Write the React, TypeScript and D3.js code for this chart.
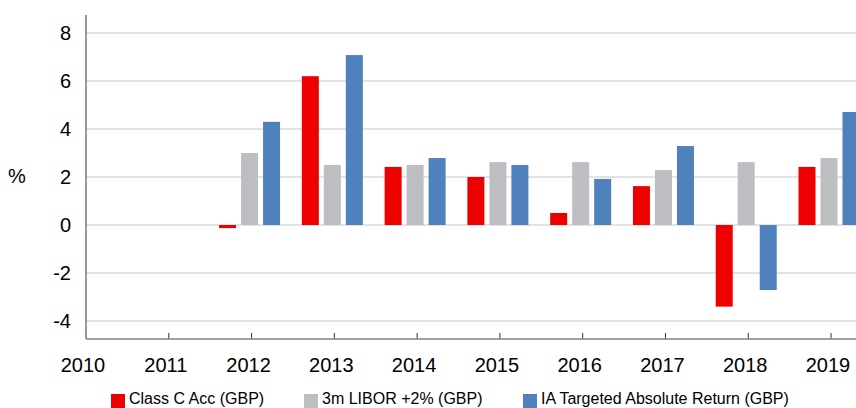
import React, { useEffect, useRef } from "react";
import * as d3 from "d3";

const years = [2012, 2013, 2014, 2015, 2016, 2017, 2018, 2019];
const classC = [-0.13, 6.2, 2.42, 2.0, 0.5, 1.62, -3.4, 2.42];
const libor = [3.0, 2.5, 2.5, 2.62, 2.62, 2.29, 2.62, 2.79];
const sector = [4.3, 7.08, 2.79, 2.5, 1.92, 3.29, -2.71, 4.71];

const seriesNames = ["Class C Acc (GBP)", "3m LIBOR +2% (GBP)", "IA Targeted Absolute Return (GBP)"];
const seriesColors = ["#ee0000", "#bdbec2", "#4f81bd"];
const yTicks = [8, 6, 4, 2, 0, -2, -4];
const xTicks = [2010, 2011, 2012, 2013, 2014, 2015, 2016, 2017, 2018, 2019];

const W = 856;
const H = 408;
const FONT = "'Liberation Sans', Arial, sans-serif";

const App: React.FC = () => {
  const ref = useRef<SVGSVGElement | null>(null);

  useEffect(() => {
    const svg = d3.select(ref.current);
    svg.selectAll("*").remove();

    const left = 86;
    const top = 15;
    const bottom = 339;

    const x = d3.scaleLinear().domain([2010, 2019]).range([left, 831]);
    const y = d3.scaleLinear().domain([-4.75, 8.75]).range([bottom, top]);
    const inner = d3.scaleBand<number>().domain([0, 1, 2]).range([-32.5, 28.5]).paddingInner(5 / 22);

    // gridlines
    svg
      .append("g")
      .selectAll("line")
      .data(yTicks)
      .enter()
      .append("line")
      .attr("x1", left)
      .attr("x2", W)
      .attr("y1", d => y(d))
      .attr("y2", d => y(d))
      .attr("stroke", "#dadada")
      .attr("stroke-width", 1.5);

    // bars
    const allSeries = [classC, libor, sector];
    allSeries.forEach((vals, si) => {
      svg
        .append("g")
        .selectAll("rect")
        .data(vals)
        .enter()
        .append("rect")
        .attr("x", (d, i) => x(years[i]) + (inner(si) as number))
        .attr("width", inner.bandwidth())
        .attr("y", d => y(Math.max(0, d)))
        .attr("height", d => Math.abs(y(d) - y(0)))
        .attr("fill", seriesColors[si]);
    });

    // y axis labels
    svg
      .append("g")
      .selectAll("text")
      .data(yTicks)
      .enter()
      .append("text")
      .attr("x", 71)
      .attr("y", d => y(d) + 7)
      .attr("text-anchor", "end")
      .attr("font-family", FONT)
      .attr("font-size", "20px")
      .attr("fill", "#000")
      .text(d => d);

    svg
      .append("text")
      .attr("x", 8)
      .attr("y", 183)
      .attr("font-family", FONT)
      .attr("font-size", "20px")
      .text("%");

    // axes lines
    svg
      .append("line")
      .attr("x1", left)
      .attr("x2", left)
      .attr("y1", top)
      .attr("y2", bottom)
      .attr("stroke", "#555")
      .attr("stroke-width", 1.2);

    svg
      .append("g")
      .selectAll("line")
      .data(xTicks.slice(1))
      .enter()
      .append("line")
      .attr("x1", d => x(d))
      .attr("x2", d => x(d))
      .attr("y1", bottom - 6)
      .attr("y2", bottom)
      .attr("stroke", "#333")
      .attr("stroke-width", 1);

    svg
      .append("line")
      .attr("x1", left)
      .attr("x2", W)
      .attr("y1", bottom)
      .attr("y2", bottom)
      .attr("stroke", "#7f7f7f")
      .attr("stroke-width", 1.5);

    // x labels
    svg
      .append("g")
      .selectAll("text")
      .data(xTicks)
      .enter()
      .append("text")
      .attr("x", d => x(d) - 3)
      .attr("y", 372)
      .attr("text-anchor", "middle")
      .attr("font-family", FONT)
      .attr("font-size", "20px")
      .attr("fill", "#000")
      .text(d => d);

    // legend
    const legendX = [111, 304, 523];
    const lg = svg
      .append("g")
      .selectAll("g")
      .data(seriesNames)
      .enter()
      .append("g")
      .attr("transform", (d, i) => `translate(${legendX[i]},394)`);
    lg.append("rect")
      .attr("width", 14)
      .attr("height", 14)
      .attr("fill", (d, i) => seriesColors[i]);
    lg.append("text")
      .attr("x", 18)
      .attr("y", 10)
      .attr("font-family", FONT)
      .attr("font-size", "16px")
      .attr("fill", "#000")
      .text(d => d);
  }, []);

  return (
    <svg
      ref={ref}
      width={W}
      height={H}
      style={{ position: "absolute", left: 0, top: 0, background: "#fff" }}
    ></svg>
  );
};

export default App;
